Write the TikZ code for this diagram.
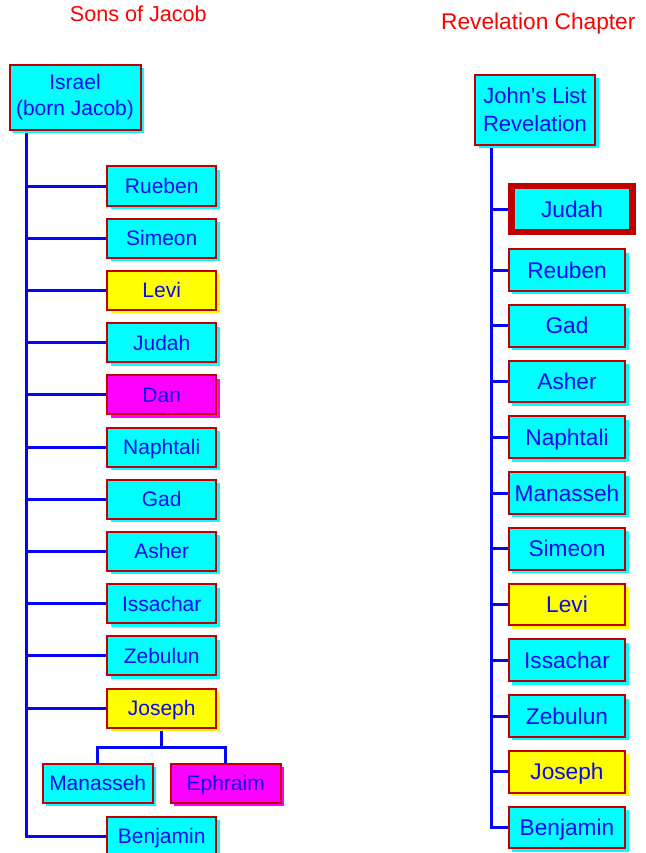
\documentclass[tikz,border=0pt]{standalone}
\usepackage{fontspec}
\setmainfont{Liberation Sans}
\usetikzlibrary{positioning,shadows,backgrounds}
\definecolor{boxred}{RGB}{192, 0, 0}
\definecolor{nameblue}{RGB}{10, 10, 240}
\definecolor{linkblue}{RGB}{5, 5, 250}
\definecolor{tribecyan}{RGB}{0, 255, 255}
\definecolor{tribeyellow}{RGB}{255, 255, 0}
\definecolor{tribemagenta}{RGB}{255, 0, 255}
\tikzset{
  son/.style = {rectangle, draw=boxred, line width=2pt, fill=#1, text=nameblue, outer sep=0pt, inner sep=2pt,
    font=\fontsize{21}{25.5}\selectfont, text height=15pt, text depth=0pt, minimum width=108.7pt, minimum height=39pt,
    drop shadow={shadow xshift=3.5pt, shadow yshift=-3.5pt, fill=#1, opacity=1}},
  son/.default = tribecyan,
  tribe/.style = {son=#1, font=\fontsize{22.7}{27}\selectfont, text height=16.2pt, minimum width=116.7pt, minimum height=41.6pt},
  tribe/.default = tribecyan,
  head/.style = {rectangle, draw=boxred, line width=2pt, fill=tribecyan, text=nameblue, outer sep=0pt, inner sep=2pt, align=center,
    drop shadow={shadow xshift=3.5pt, shadow yshift=-3.5pt, fill=tribecyan, opacity=1}},
  title/.style = {draw=none, fill=none, text=red, text height=14.5pt, text depth=0pt},
  link/.style = {draw=linkblue, line width=3pt}
}

\begin{document}
\begin{tikzpicture}[x=1pt, y=-1pt]
\useasboundingbox (0,0) rectangle (645,853);

% titles =============================
\node[title, font=\fontsize{21.6}{26}\selectfont] (sonstitle) at (138.3,14.5) {Sons of Jacob};
\node[title, font=\fontsize{22.7}{27}\selectfont, text height=16.2pt] (revtitle) at (538.3,21) {Revelation Chapter};

% sons of jacob
\node[head, font=\fontsize{21}{26}\selectfont, minimum width=131pt, minimum height=65pt] (israel) at (75,97.5) {Israel\\(born Jacob)};
\node[son] (rueben1) at (161.7,186) {Rueben};
\node[son, below=13.2pt of rueben1] (simeon1) {Simeon};
\node[son=tribeyellow, below=13.2pt of simeon1] (levi1) {Levi};
\node[son, below=13.2pt of levi1] (judah1) {Judah};
\node[son=tribemagenta, below=13.2pt of judah1] (dan1) {Dan};
\node[son, below=13.2pt of dan1] (naphtali1) {Naphtali};
\node[son, below=13.2pt of naphtali1] (gad1) {Gad};
\node[son, below=13.2pt of gad1] (asher1) {Asher};
\node[son, below=13.2pt of asher1] (issachar1) {Issachar};
\node[son, below=13.2pt of issachar1] (zebulun1) {Zebulun};
\node[son=tribeyellow, below=13.2pt of zebulun1] (joseph1) {Joseph};
\node[son, minimum width=110pt] (manasseh1) at (97.7,783) {Manasseh};
\node[son=tribemagenta, minimum width=110pt, right=18pt of manasseh1] (ephraim1) {Ephraim};
\node[son, below=89pt of joseph1] (benjamin1) {Benjamin};

% revelation list
\node[head, font=\fontsize{22}{28}\selectfont, minimum width=120pt, minimum height=70pt] (johnlist) at (535,110) {John\textquotesingle s List\\Revelation};
\node[tribe, line width=6.5pt, minimum width=120.7pt, minimum height=45.7pt] (judah2) at (572,209) {Judah};
\node[tribe] (reuben2) at (567,270) {Reuben};
\node[tribe, below=14.15pt of reuben2] (gad2) {Gad};
\node[tribe, below=14.15pt of gad2] (asher2) {Asher};
\node[tribe, below=14.15pt of asher2] (naphtali2) {Naphtali};
\node[tribe, below=14.15pt of naphtali2] (manasseh2) {Manasseh};
\node[tribe, below=14.15pt of manasseh2] (simeon2) {Simeon};
\node[tribe=tribeyellow, below=14.15pt of simeon2] (levi2) {Levi};
\node[tribe, below=14.15pt of levi2] (issachar2) {Issachar};
\node[tribe, below=14.15pt of issachar2] (zebulun2) {Zebulun};
\node[tribe=tribeyellow, below=14.15pt of zebulun2] (joseph2) {Joseph};
\node[tribe, below=14.15pt of joseph2] (benjamin2) {Benjamin};

% trunks and branches
\path (israel.south west) ++(17,0) coordinate (ltrunk);
\path (johnlist.south west) ++(16,0) coordinate (rtrunk);
\begin{scope}[on background layer]
\draw[link] (ltrunk) |- (benjamin1.west);
\foreach \kid in {rueben1,simeon1,levi1,judah1,dan1,naphtali1,gad1,asher1,issachar1,zebulun1,joseph1}
  \draw[link] (ltrunk |- \kid.west) -- (\kid.west);
\draw[link] (joseph1.south) -- ++(0,20) coordinate (jfork);
\draw[link] (manasseh1.north) |- (jfork) -| (ephraim1.north);
\draw[link] (rtrunk) |- (benjamin2.west);
\foreach \kid in {judah2,reuben2,gad2,asher2,naphtali2,manasseh2,simeon2,levi2,issachar2,zebulun2,joseph2}
  \draw[link] (rtrunk |- \kid.west) -- (\kid.west);
\end{scope}

\end{tikzpicture}
\end{document}
